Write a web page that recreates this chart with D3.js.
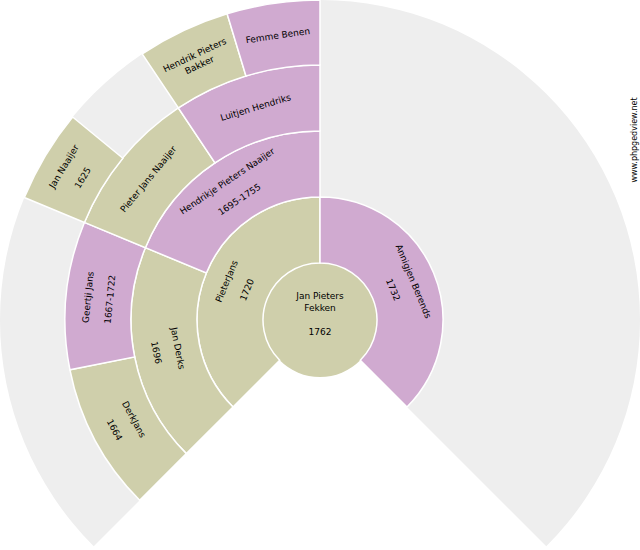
<!DOCTYPE html>
<html><head><meta charset="utf-8">
<script src="https://cdn.jsdelivr.net/npm/d3@7"></script>
<style>body{margin:0;background:#fff}text{font-family:"DejaVu Sans",Verdana,sans-serif;font-size:9px;fill:#000}</style>
</head><body><svg id="c" width="640" height="550"></svg>
<script>
// generation, index within generation, sex, name lines
const gens = [0,1,1,2,2,3,3,3,3,4,4,4];
const slots = [0,0,1,0,1,0,1,2,3,4,6,7];
const sexes = ["m","m","f","m","f","m","f","m","f","m","m","f"];
const names = [["Jan Pieters","Fekken","","1762"],["PieterJans","1720"],["Annigjen Berends","1732"],
 ["Jan Derks","1696"],["Hendrikje Pieters Naaijer","1695-1755"],["DerkJans","1664"],["Geertji Jans","1667-1722"],
 ["Pieter Jans Naaijer"],["Luitjen Hendriks"],["Jan Naaijer","1625"],["Hendrik Pieters","Bakker"],["Femme Benen"]];
const colors = {m:"#cfcfab", f:"#d0aad0"};
const cx=320, cy=320, r0=57, ringW=66;
const svg=d3.select("#c");
const deg=Math.PI/180;
const span=d3.scaleLinear().domain([0,1]).range([-135*deg,135*deg]);
svg.append("path").attr("transform",`translate(${cx},${cy})`)
 .attr("d",d3.arc()({innerRadius:0,outerRadius:320,startAngle:span(0),endAngle:span(1)})).attr("fill","#eeeeee");
const people = gens.map((g,i)=>({g,s:slots[i],sex:sexes[i],lines:names[i]}));
const g=svg.append("g").attr("transform",`translate(${cx},${cy})`);
people.forEach(p=>{
  if(p.g===0){
    g.append("circle").attr("r",r0).attr("fill",colors.m);
    p.lines.forEach((l,k)=>g.append("text").attr("text-anchor","middle").attr("y",-21+k*12).text(l));
    return;
  }
  const n=Math.pow(2,p.g);
  const a0=span(p.s/n), a1=span((p.s+1)/n);
  const ri=r0+(p.g-1)*ringW, ro=p.g===4?320:r0+p.g*ringW;
  g.append("path").attr("d",d3.arc()({innerRadius:ri,outerRadius:ro,startAngle:a0,endAngle:a1}))
   .attr("fill",colors[p.sex]).attr("stroke","#fff").attr("stroke-width",1.5);
  const am=(a0+a1)/2, rm=(ri+ro)/2;
  const x=rm*Math.sin(am), y=-rm*Math.cos(am);
  let rot=am/deg; if(rot<-90) rot+=180; if(rot>90) rot-=180;
  const t=g.append("text").attr("text-anchor","middle").attr("transform",`translate(${x},${y}) rotate(${rot})`);
  const nl=p.lines.length;
  const gap=(p.lines[1]&&/\d/.test(p.lines[1]))?22:11;
  p.lines.forEach((l,k)=>t.append("tspan").attr("x",0).attr("y",(k-(nl-1)/2)*gap+3).text(l));
});
svg.append("text").attr("transform","translate(637,140) rotate(-90)").attr("text-anchor","middle")
 .style("font-size","8px").text("www.phpgedview.net");
</script></body></html>
